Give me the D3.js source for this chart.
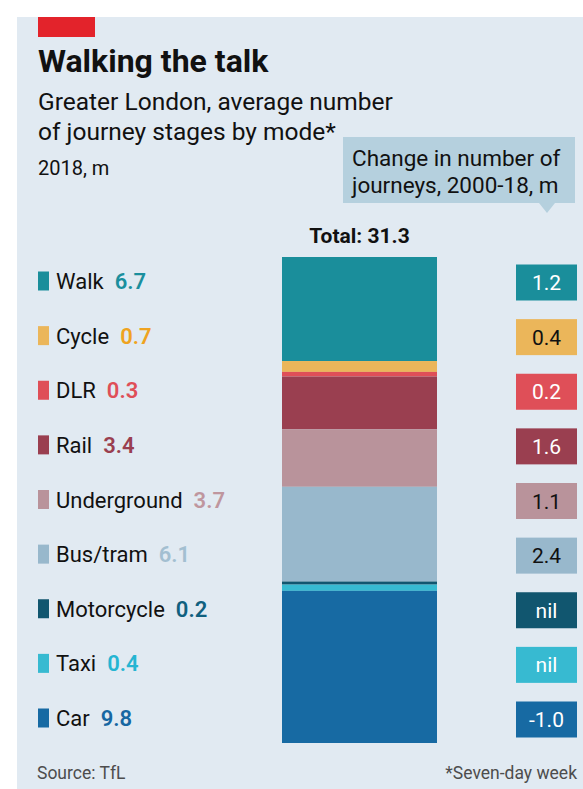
<!DOCTYPE html>
<html>
<head>
<meta charset="utf-8">
<script src="https://cdn.jsdelivr.net/npm/d3@7"></script>
<style>
  body { margin: 0; background: #fff; }
  svg { display: block; font-family: Roboto, 'Noto Sans', sans-serif; }
</style>
</head>
<body>
<svg id="chart" width="583" height="789"></svg>
<script>
const modes = ['Walk', 'Cycle', 'DLR', 'Rail', 'Underground', 'Bus/tram', 'Motorcycle', 'Taxi', 'Car'];
const stages = [6.7, 0.7, 0.3, 3.4, 3.7, 6.1, 0.2, 0.4, 9.8];
const changes = ['1.2', '0.4', '0.2', '1.6', '1.1', '2.4', 'nil', 'nil', '-1.0'];

const fills = ['#1a8e9b', '#ebb65a', '#df4f58', '#9a3f50', '#b9939b', '#98b8cc', '#11566f', '#37bad1', '#176aa3'];
const valueColours = ['#1a8f9d', '#efa320', '#df4f58', '#9a3f50', '#bf969e', '#a3bfd1', '#10607f', '#25b5d2', '#1767a2'];
const darkText = ['Cycle', 'Underground', 'Bus/tram'];

const svg = d3.select('#chart');

// background panel + red tab
svg.append('rect').attr('x', 17).attr('y', 17).attr('width', 566).attr('height', 772).attr('fill', '#e1eaf2');
svg.append('rect').attr('x', 38).attr('y', 17).attr('width', 57).attr('height', 20).attr('fill', '#e3232b');

svg.append('text').attr('x', 38).attr('y', 72).attr('font-size', 32).attr('font-weight', 700).attr('fill', '#111')
  .text('Walking the talk');
svg.append('text').attr('x', 38).attr('y', 110).attr('font-size', 24.5).attr('fill', '#111')
  .text('Greater London, average number');
svg.append('text').attr('x', 38).attr('y', 140).attr('font-size', 24.5).attr('fill', '#111')
  .text('of journey stages by mode*');
svg.append('text').attr('x', 38).attr('y', 175).attr('font-size', 20).attr('fill', '#111')
  .text('2018, m');

// callout
svg.append('path').attr('d', 'M343,137H575V203H555L547,213L539,203H343Z').attr('fill', '#b5d0de');
svg.append('text').attr('x', 352).attr('y', 166).attr('font-size', 22.5).attr('fill', '#111').text('Change in number of');
svg.append('text').attr('x', 352).attr('y', 193).attr('font-size', 22.5).attr('fill', '#111').text('journeys, 2000-18, m');

const total = d3.sum(stages);
const ends = d3.cumsum(stages);

const y = d3.scaleLinear().domain([0, total]).range([257, 743]);
const row = d3.scalePoint().domain(modes).range([281, 718]);
const barX = 282, barW = 155;

svg.append('text').attr('x', barX + barW / 2).attr('y', 243).attr('text-anchor', 'middle')
  .attr('font-size', 21).attr('font-weight', 700).attr('fill', '#111')
  .text('Total: ' + d3.format('.1f')(total));

svg.append('g').selectAll('rect').data(modes).join('rect')
  .attr('x', barX).attr('width', barW)
  .attr('y', (d, i) => y(ends[i] - stages[i]))
  .attr('height', (d, i) => y(ends[i]) - y(ends[i] - stages[i]))
  .attr('fill', (d, i) => fills[i]);

// legend
const legend = svg.append('g').selectAll('g').data(modes).join('g')
  .attr('transform', d => `translate(38,${row(d)})`);
legend.append('rect').attr('x', 0).attr('y', -9.5).attr('width', 11).attr('height', 19)
  .attr('fill', (d, i) => fills[i]);
const lt = legend.append('text').attr('x', 18).attr('y', 8).attr('font-size', 22);
lt.append('tspan').attr('fill', '#111').text(d => d);
lt.append('tspan').attr('dx', 11).attr('font-weight', 600)
  .attr('fill', (d, i) => valueColours[i]).text((d, i) => stages[i]);

// change boxes
const box = svg.append('g').selectAll('g').data(modes).join('g')
  .attr('transform', d => `translate(516,${row(d) + 1.5})`);
box.append('rect').attr('x', 0).attr('y', -18).attr('width', 61).attr('height', 36)
  .attr('fill', (d, i) => fills[i]);
box.append('text').attr('x', 30.5).attr('y', 7.5).attr('text-anchor', 'middle').attr('font-size', 21)
  .attr('fill', d => darkText.includes(d) ? '#111' : '#fff')
  .text((d, i) => changes[i]);

svg.append('text').attr('x', 37).attr('y', 779).attr('font-size', 17.5).attr('fill', '#4d4d4d').text('Source: TfL');
svg.append('text').attr('x', 577).attr('y', 779).attr('text-anchor', 'end').attr('font-size', 17.5).attr('fill', '#4d4d4d')
  .text('*Seven-day week');
</script>
</body>
</html>
